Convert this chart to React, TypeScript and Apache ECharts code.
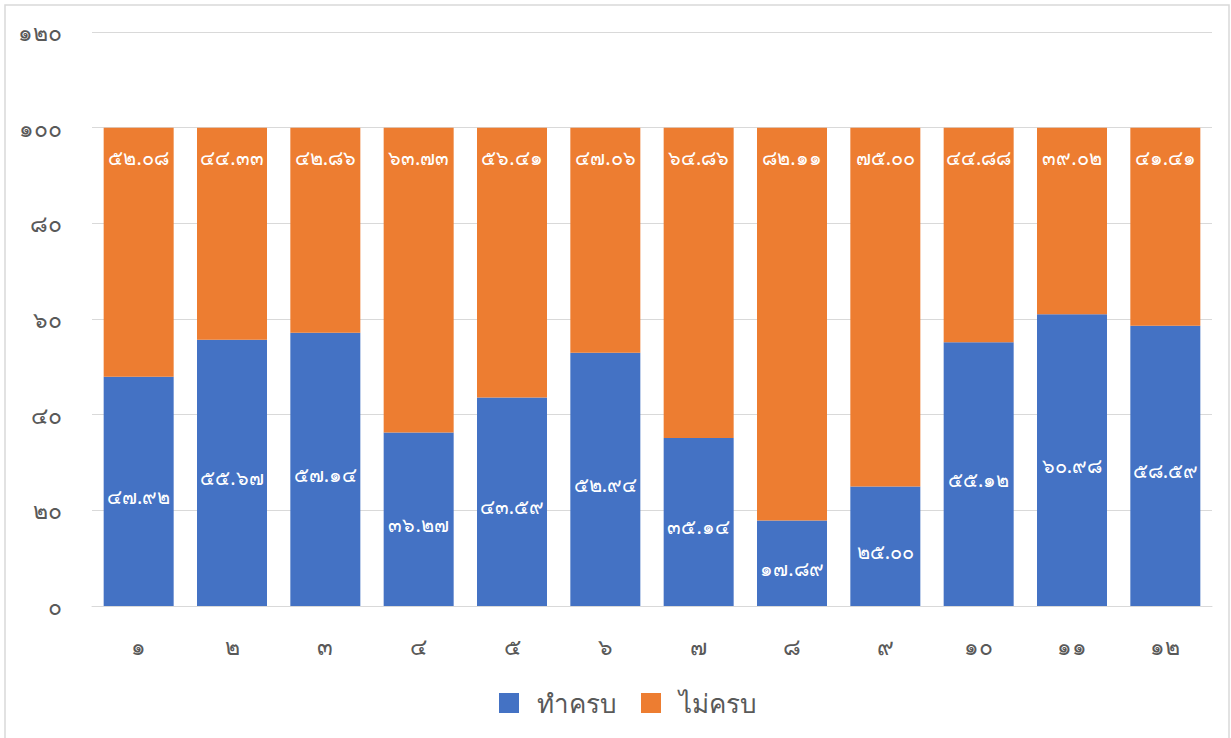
import React, { useEffect, useRef } from "react";
import * as echarts from "echarts";

const categories = [1, 2, 3, 4, 5, 6, 7, 8, 9, 10, 11, 12];
const complete = [47.92, 55.67, 57.14, 36.27, 43.59, 52.94, 35.14, 17.89, 25.0, 55.12, 60.98, 58.59];
const incomplete = [52.08, 44.33, 42.86, 63.73, 56.41, 47.06, 64.86, 82.11, 75.0, 44.88, 39.02, 41.41];
const seriesNames = ["ทำครบ", "ไม่ครบ"];

const thaiDigits = "๐๑๒๓๔๕๖๗๘๙";
const toThai = (s: string) => s.replace(/[0-9]/g, (d) => thaiDigits[Number(d)]);

export default function App() {
  const ref = useRef<HTMLDivElement>(null);
  useEffect(() => {
    const chart = echarts.init(ref.current!, null, { renderer: "svg" });
    const font = "Tahoma, 'Noto Sans', sans-serif";
    chart.setOption({
      animation: false,
      textStyle: { fontFamily: font },
      graphic: [
        {
          type: "rect",
          shape: { x: 5, y: 5, width: 1224, height: 740 },
          style: { fill: "none", stroke: "#d9d9d9", lineWidth: 1.5 },
          silent: true,
        },
      ],
      grid: { left: 92, right: 19, top: 32, bottom: 132 },
      legend: {
        bottom: 17,
        left: 494,
        itemWidth: 20,
        itemHeight: 20,
        itemGap: 24,
        icon: "rect",
        textStyle: { fontSize: 26, color: "#595959", fontFamily: font, padding: [0, 0, 0, 13] },
        data: seriesNames,
      },
      xAxis: {
        type: "category",
        data: categories.map((c) => toThai(String(c))),
        axisLine: { lineStyle: { color: "#d9d9d9" } },
        axisTick: { show: false },
        axisLabel: { color: "#595959", fontSize: 23, margin: 28 },
      },
      yAxis: {
        type: "value",
        min: 0,
        max: 120,
        interval: 20,
        axisLine: { show: false },
        axisTick: { show: false },
        splitLine: { lineStyle: { color: "#d9d9d9" } },
        axisLabel: {
          color: "#595959",
          fontSize: 23,
          margin: 30,
          formatter: (v: number) => toThai(String(v)),
        },
      },
      series: [
        {
          name: seriesNames[0],
          type: "bar",
          stack: "a",
          barCategoryGap: "25%",
          data: complete,
          itemStyle: { color: "#4472C4" },
          label: {
            show: true,
            position: "inside",
            color: "#ffffff",
            fontSize: 20,
            offset: [0, 5],
            formatter: (p: any) => toThai(p.value.toFixed(2)),
          },
        },
        {
          name: seriesNames[1],
          type: "bar",
          stack: "a",
          barCategoryGap: "25%",
          data: incomplete,
          itemStyle: { color: "#ED7D31" },
          label: {
            show: true,
            position: "insideTop",
            distance: 20,
            color: "#ffffff",
            fontSize: 20,
            formatter: (p: any) => toThai(p.value.toFixed(2)),
          },
        },
      ],
    });
    return () => chart.dispose();
  }, []);
  return (
    <div
      ref={ref}
      style={{ position: "fixed", left: 0, top: 0, width: 1231, height: 738, background: "#fff" }}
    />
  );
}
